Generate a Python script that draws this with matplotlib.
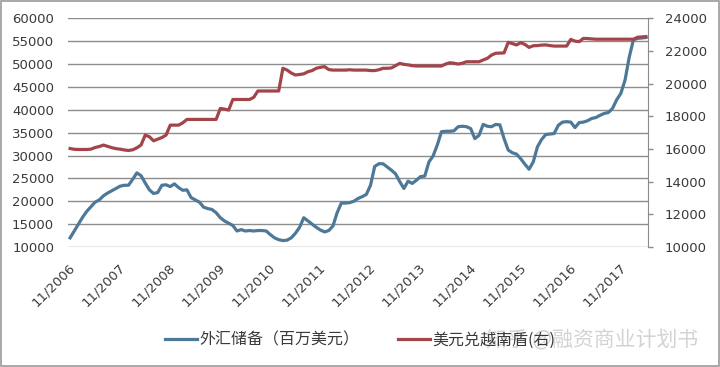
import matplotlib
matplotlib.use('Agg')
import matplotlib.pyplot as plt
from matplotlib.patches import Rectangle
import matplotlib.transforms as mtransforms

plt.rcParams['font.family'] = ['DejaVu Sans', 'Noto Sans CJK SC']

# monthly data, 11/2006 .. 5/2018
reserves = [12000, 13500, 15000, 16500, 17800, 18800, 19800, 20300, 21200, 21800,
            22300, 22800, 23300, 23500, 23500, 24800, 26200, 25600, 24000, 22500,
            21700, 21900, 23500, 23600, 23200, 23800, 23000, 22400, 22500, 20800,
            20300, 19800, 18700, 18400, 18200, 17500, 16400, 15700, 15200, 14700,
            13500, 13800, 13500, 13600, 13500, 13600, 13600, 13500, 12700, 12000,
            11600, 11400, 11500, 12000, 13000, 14300, 16400, 15700, 15000, 14300,
            13700, 13300, 13600, 14600, 17500, 19600, 19600, 19700, 20000, 20600,
            21000, 21500, 23500, 27600, 28200, 28200, 27500, 26800, 26000, 24300,
            22800, 24400, 23900, 24600, 25400, 25500, 28600, 29900, 32300, 35200,
            35300, 35300, 35400, 36300, 36400, 36300, 35900, 33700, 34400, 36800,
            36400, 36300, 36800, 36700, 33700, 31200, 30600, 30300, 29300, 28100,
            27000, 28600, 31900, 33500, 34600, 34700, 34800, 36600, 37300, 37400,
            37300, 36100, 37200, 37300, 37600, 38100, 38300, 38800, 39200, 39400,
            40300, 42200, 43600, 46500, 51500, 55300, 55600, 55700, 55800]

usd_vnd = [16030, 15980, 15970, 15970, 15970, 15990, 16090, 16150, 16240, 16160,
           16080, 16020, 15990, 15940, 15910, 15950, 16070, 16240, 16850, 16750,
           16500, 16600, 16700, 16850, 17460, 17460, 17460, 17600, 17810, 17810,
           17810, 17810, 17810, 17810, 17810, 17810, 18480, 18440, 18380, 19030,
           19030, 19030, 19030, 19030, 19160, 19550, 19550, 19550, 19550, 19550,
           19550, 20940, 20830, 20650, 20530, 20560, 20600, 20730, 20800, 20940,
           21000, 21040, 20860, 20830, 20830, 20830, 20830, 20850, 20830, 20830,
           20830, 20830, 20800, 20800, 20850, 20940, 20940, 20960, 21100, 21240,
           21180, 21150, 21100, 21080, 21080, 21080, 21080, 21080, 21080, 21080,
           21200, 21280, 21250, 21200, 21250, 21340, 21340, 21340, 21340, 21450,
           21550, 21750, 21860, 21870, 21880, 22530, 22450, 22370, 22510, 22400,
           22220, 22320, 22330, 22360, 22370, 22330, 22300, 22300, 22300, 22300,
           22710, 22600, 22570, 22770, 22760, 22740, 22720, 22720, 22720, 22720,
           22720, 22720, 22720, 22720, 22720, 22720, 22840, 22860, 22880]

tick_labels = ['11/2006', '11/2007', '11/2008', '11/2009', '11/2010', '11/2011',
               '11/2012', '11/2013', '11/2014', '11/2015', '11/2016', '11/2017']

name_res = '外汇储备（百万美元）'
name_fx = '美元兑越南盾(右)'

blue = '#4d7898'
red = '#a3444b'
txt = '#3a3a3a'

fig = plt.figure(figsize=(7.2, 3.67), dpi=100)
ax = fig.add_axes([68/720, 1-247/367, 580/720, 228.7/367])
ax2 = ax.twinx()

x = list(range(len(reserves)))
l1, = ax.plot(x, reserves, color=blue, lw=2.3, solid_joinstyle='round')
l2, = ax2.plot(x, usd_vnd, color=red, lw=2.3, solid_joinstyle='round')

ax.set_xlim(-0.5, len(reserves) - 0.5)
ax.set_ylim(10000, 60000)
ax2.set_ylim(10000, 24000)
ax.set_yticks(range(10000, 60001, 5000))
ax2.set_yticks(range(10000, 24001, 2000))
ax.yaxis.grid(True, color='#8c8c8c', lw=1.0)
ax.set_axisbelow(True)

for s in ax.spines.values():
    s.set_visible(False)
for k in ['top', 'left', 'bottom']:
    ax2.spines[k].set_visible(False)
ax2.spines['right'].set_color('#8c8c8c')

ax.tick_params(axis='y', length=0, pad=10, labelsize=9.5, labelcolor=txt)
ax2.tick_params(axis='y', length=3.6, width=1, color='#8c8c8c', pad=8.5,
                labelsize=9.5, labelcolor=txt)

ax.set_xticks(range(0, 12 * len(tick_labels), 12))
ax.set_xticklabels(tick_labels, rotation=45, ha='right', va='center',
                   rotation_mode='anchor', fontsize=9.5, color=txt)
ax.tick_params(axis='x', length=0, pad=13.5)
off = mtransforms.ScaledTranslation(3/100, 0, fig.dpi_scale_trans)
for lab in ax.get_xticklabels():
    lab.set_transform(lab.get_transform() + off)

fig.legend([l1, l2], [name_res, name_fx], loc='center', ncol=2,
           bbox_to_anchor=(0.5, 1-340/367), frameon=False,
           prop={'family': 'Noto Sans CJK SC', 'size': 11.5},
           handlelength=2.0, handletextpad=0.15, columnspacing=2.4, labelcolor=txt)

fig.text(0.675, 1-340/367, '知乎 @融资商业计划书', fontsize=15, color='#c8c8c8',
         alpha=0.8, family='Noto Sans CJK SC', va='center', ha='left')

fig.patches.append(Rectangle((0.001, 0.002), 0.997, 0.996, transform=fig.transFigure,
                             fill=False, edgecolor='#9a9a9a', lw=1.2))

fig.savefig('out.png', dpi=100)
